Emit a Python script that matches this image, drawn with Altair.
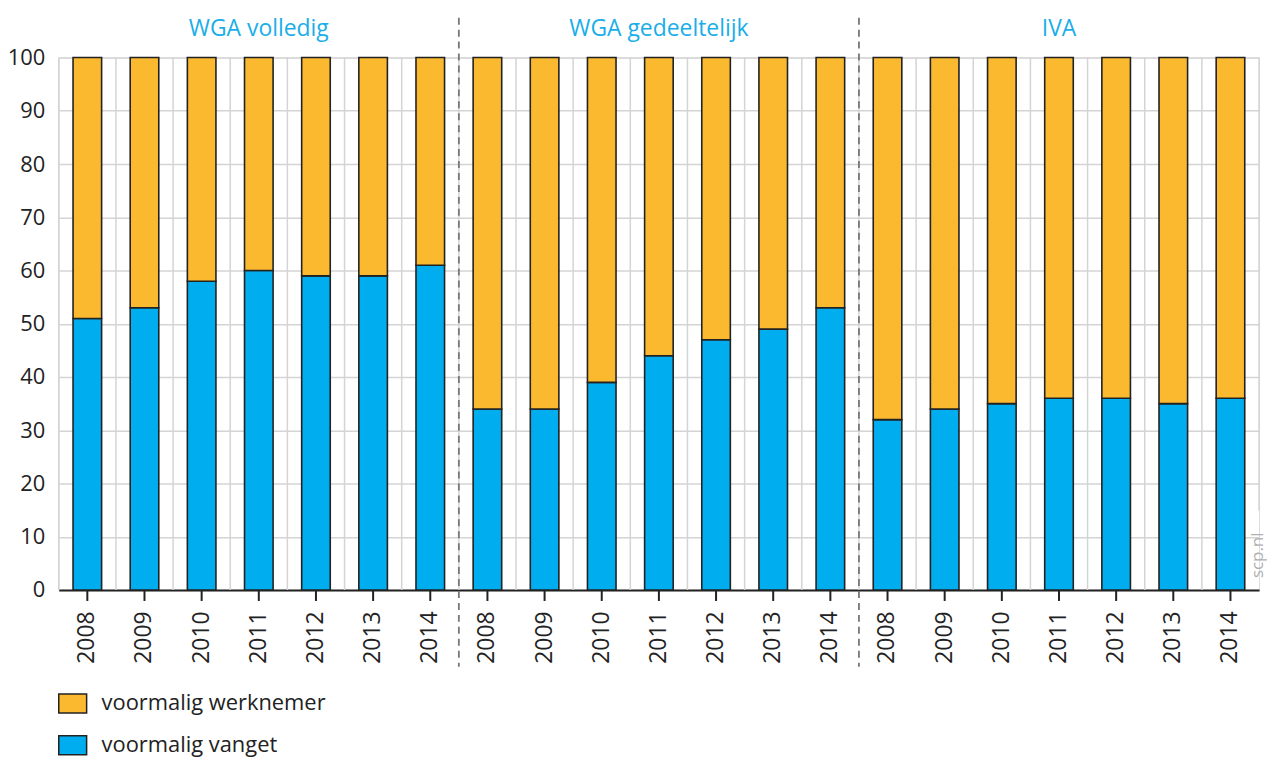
import altair as alt
import pandas as pd

groups = ["WGA volledig", "WGA gedeeltelijk", "IVA"]
years = ["2008", "2009", "2010", "2011", "2012", "2013", "2014"]
series = ["voormalig werknemer", "voormalig vanget"]

vanget = {
    "WGA volledig": [51, 53, 58, 60, 59, 59, 61],
    "WGA gedeeltelijk": [34, 34, 39, 44, 47, 49, 53],
    "IVA": [32, 34, 35, 36, 36, 35, 36],
}
werknemer = {
    "WGA volledig": [49, 47, 42, 40, 41, 41, 39],
    "WGA gedeeltelijk": [66, 66, 61, 56, 53, 51, 47],
    "IVA": [68, 66, 65, 64, 64, 65, 64],
}
source_label = ["scp.nl"]

ORANGE = "#FBB92F"
BLUE = "#00ADEE"
DARK = "#222222"
GRID = "#D4D4D4"
FONT = "Open Sans"

W, H = 1206, 535
N = len(groups) * len(years)
HALF_GAP = W / N / 4  # half of the gap between two bars

keys = [f"{g}|{y}" for g in groups for y in years]

rows = []
for g in groups:
    for i, y in enumerate(years):
        rows.append({"key": f"{g}|{y}", "reeks": series[1], "waarde": vanget[g][i], "volgorde": 0})
        rows.append({"key": f"{g}|{y}", "reeks": series[0], "waarde": werknemer[g][i], "volgorde": 1})
df = pd.DataFrame(rows)

cat_df = pd.DataFrame({"key": keys})
last_df = pd.DataFrame({"key": keys[-1:]})
title_df = pd.DataFrame({"key": [f"{g}|{years[3]}" for g in groups], "titel": groups})
sep_df = pd.DataFrame({"key": [f"{g}|{years[0]}" for g in groups[1:]]})
src_df = pd.DataFrame({"t": source_label})

xscale = alt.Scale(paddingInner=0.5, paddingOuter=0.25)
xsort = keys

vgrid = alt.Chart(cat_df).mark_rule(color=GRID, strokeWidth=1.5, xOffset=-HALF_GAP).encode(
    x=alt.X("key:N", sort=xsort, bandPosition=0),
    y=alt.value(0), y2=alt.value(H),
)
vgrid_end = alt.Chart(last_df).mark_rule(color=GRID, strokeWidth=1.5, xOffset=HALF_GAP).encode(
    x=alt.X("key:N", sort=xsort, bandPosition=1),
    y=alt.value(0), y2=alt.value(H - 80),
)

bars = alt.Chart(df).mark_bar(stroke=DARK, strokeWidth=1.6).encode(
    x=alt.X(
        "key:N", sort=xsort, scale=xscale,
        axis=alt.Axis(
            title=None, labelAngle=270, labelExpr="split(datum.value, '|')[1]",
            labelFontSize=23, labelFont=FONT, labelColor=DARK, labelPadding=21,
            grid=False, ticks=False, domain=True, domainColor=DARK, domainWidth=2,
        ),
    ),
    y=alt.Y(
        "waarde:Q", stack="zero",
        scale=alt.Scale(domain=[0, 100], nice=False),
        axis=alt.Axis(
            title=None, values=list(range(0, 101, 10)), grid=True, gridColor=GRID,
            gridWidth=1.5, ticks=False, domain=False, labelFontSize=22, labelFont=FONT,
            labelColor=DARK, labelPadding=14,
        ),
    ),
    color=alt.Color(
        "reeks:N",
        scale=alt.Scale(domain=series, range=[ORANGE, BLUE]),
        legend=alt.Legend(
            title=None, orient="none", legendX=-1, legendY=634, padding=0,
            symbolType="M-1,-0.68L1,-0.68L1,0.68L-1,0.68Z", symbolSize=784,
            symbolStrokeColor=DARK, symbolStrokeWidth=1.5, symbolOpacity=1,
            labelFontSize=22, labelFont=FONT, labelColor=DARK, labelOffset=14,
            rowPadding=14, labelLimit=600,
        ),
    ),
    order=alt.Order("volgorde:Q"),
)

ticks = alt.Chart(cat_df).mark_rule(color=DARK, strokeWidth=2).encode(
    x=alt.X("key:N", sort=xsort),
    y=alt.value(H), y2=alt.value(H + 11),
)

seps = alt.Chart(sep_df).mark_rule(
    color="#777777", strokeWidth=1.8, strokeDash=[7, 5], xOffset=-HALF_GAP
).encode(
    x=alt.X("key:N", sort=xsort, bandPosition=0),
    y=alt.value(-40), y2=alt.value(H + 77),
)

titles = alt.Chart(title_df).mark_text(
    color="#1AAEE8", fontSize=23, font=FONT, baseline="alphabetic", align="center"
).encode(
    x=alt.X("key:N", sort=xsort),
    y=alt.value(-22),
    text="titel:N",
)

src = alt.Chart(src_df).mark_text(
    color="#B0B0B0", fontSize=17, font=FONT, angle=270, align="left", baseline="middle"
).encode(
    x=alt.value(W - 1), y=alt.value(523), text="t:N",
)

chart = alt.layer(vgrid, vgrid_end, bars, ticks, seps, titles, src).properties(
    width=W, height=H,
    autosize=alt.AutoSizeParams(type="none"),
    padding={"left": 51, "top": 48, "right": 8, "bottom": 166},
).configure_view(stroke=None).configure(background="white")

chart.save("out.html", embed_options={"renderer": "svg", "actions": False})
